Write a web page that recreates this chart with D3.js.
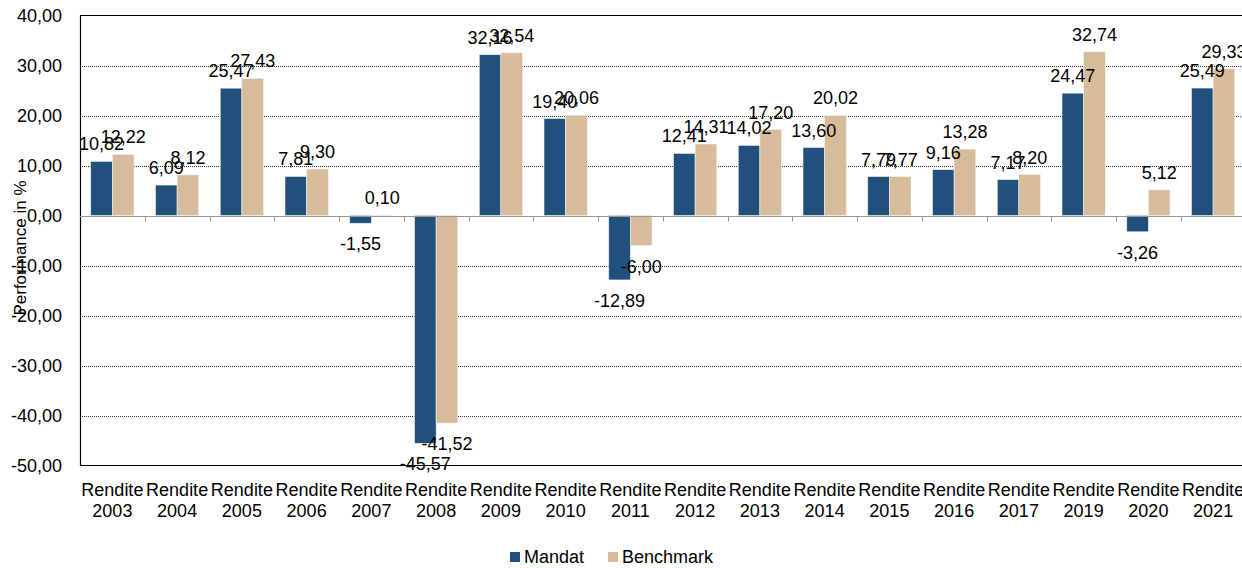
<!DOCTYPE html>
<html>
<head>
<meta charset="utf-8">
<script src="https://cdn.jsdelivr.net/npm/d3@7"></script>
<style>
  html, body { margin: 0; padding: 0; background: #fff; }
  svg { display: block; font-family: "Liberation Sans", Arial, sans-serif; }
</style>
</head>
<body>
<svg id="chart" width="1242" height="568"></svg>
<script>
var YEARS = ["2003","2004","2005","2006","2007","2008","2009","2010","2011","2012","2013","2014","2015","2016","2017","2019","2020","2021"];
var MANDAT = [10.82, 6.09, 25.47, 7.81, -1.55, -45.57, 32.16, 19.40, -12.89, 12.41, 14.02, 13.60, 7.79, 9.16, 7.17, 24.47, -3.26, 25.49];
var BENCHMARK = [12.22, 8.12, 27.43, 9.30, 0.10, -41.52, 32.54, 20.06, -6.00, 14.31, 17.20, 20.02, 7.77, 13.28, 8.20, 32.74, 5.12, 29.33];
var SERIES = ["Mandat", "Benchmark"];
var Y_TICKS = [40, 30, 20, 10, 0, -10, -20, -30, -40, -50];

document.addEventListener("DOMContentLoaded", function() {
  drawChart();
});

function fmt(v) {
  return v.toFixed(2).replace(".", ",");
}

function drawChart() {
  var svg = d3.select("#chart");
  var left = 80, top = 15.5, bottom = 465.5;
  var bandW = 64.75;
  var right = left + bandW * YEARS.length;
  var fs = 18;
  var colors = { Mandat: "#22507c", Benchmark: "#d6bc9a" };

  var rows = YEARS.map(function(y, i) {
    return { year: y, Mandat: MANDAT[i], Benchmark: BENCHMARK[i] };
  });

  var x0 = d3.scaleBand().domain(YEARS).range([left, right]).padding(0);
  var x1 = d3.scaleBand().domain(SERIES)
    .range([x0.bandwidth() * 0.166, x0.bandwidth() * 0.834]).padding(0);
  var y = d3.scaleLinear().domain([-50, 40]).range([bottom, top]);

  // dotted grid
  svg.append("g").selectAll("line")
    .data(Y_TICKS.filter(function(t) { return t !== 0 && t !== 40 && t !== -50; }))
    .enter().append("line")
    .attr("x1", left).attr("x2", right)
    .attr("y1", function(d) { return Math.round(y(d)) + 0.5; })
    .attr("y2", function(d) { return Math.round(y(d)) + 0.5; })
    .attr("stroke", "#333")
    .attr("stroke-width", 1)
    .attr("stroke-dasharray", "1,1");

  // bars
  var groups = svg.append("g").selectAll("g")
    .data(rows)
    .enter().append("g")
    .attr("transform", function(d) { return "translate(" + x0(d.year) + ",0)"; });

  groups.selectAll("rect")
    .data(function(d) { return SERIES.map(function(s) { return { key: s, value: d[s] }; }); })
    .enter().append("rect")
    .attr("x", function(d) { return x1(d.key); })
    .attr("width", x1.bandwidth())
    .attr("y", function(d) { return y(Math.max(0, d.value)); })
    .attr("height", function(d) { return Math.abs(y(d.value) - y(0)); })
    .attr("fill", function(d) { return colors[d.key]; })
    .attr("stroke", "#eef0f2")
    .attr("stroke-width", 0.6);

  // frame: top, left, bottom
  svg.append("path")
    .attr("d", "M" + right + "," + top + "H" + (left + 0.5) + "V" + bottom + "H" + right)
    .attr("fill", "none")
    .attr("stroke", "#000")
    .attr("stroke-width", 1.2);

  // zero axis with ticks between categories
  var zeroY = Math.round(y(0)) + 0.5;
  svg.append("line")
    .attr("x1", left).attr("x2", right)
    .attr("y1", zeroY).attr("y2", zeroY)
    .attr("stroke", "#999").attr("stroke-width", 1.2);
  svg.append("g").selectAll("line")
    .data(YEARS.slice(1))
    .enter().append("line")
    .attr("x1", function(d) { return Math.round(x0(d)) + 0.5; })
    .attr("x2", function(d) { return Math.round(x0(d)) + 0.5; })
    .attr("y1", zeroY).attr("y2", zeroY + 5)
    .attr("stroke", "#999");

  // value labels
  groups.selectAll("text")
    .data(function(d) { return SERIES.map(function(s) { return { key: s, value: d[s] }; }); })
    .enter().append("text")
    .attr("x", function(d) { return x1(d.key) + x1.bandwidth() / 2; })
    .attr("y", function(d) { return d.value >= 0 ? y(d.value) - 11 : y(d.value) + 27; })
    .attr("text-anchor", "middle")
    .attr("font-size", fs)
    .attr("fill", "#000")
    .text(function(d) { return fmt(d.value); });

  // y tick labels
  svg.append("g").selectAll("text")
    .data(Y_TICKS)
    .enter().append("text")
    .attr("x", 62)
    .attr("y", function(d) { return y(d) + 6; })
    .attr("text-anchor", "end")
    .attr("font-size", fs)
    .attr("fill", "#000")
    .text(fmt);

  // axis title
  svg.append("text")
    .attr("transform", "translate(26,248) rotate(-90)")
    .attr("text-anchor", "middle")
    .attr("font-size", 17)
    .attr("fill", "#000")
    .text("Performance in %");

  // x labels
  var xl = svg.append("g").selectAll("text")
    .data(YEARS)
    .enter().append("text")
    .attr("text-anchor", "middle")
    .attr("font-size", fs)
    .attr("fill", "#000");
  xl.append("tspan")
    .attr("x", function(d) { return x0(d) + x0.bandwidth() / 2; })
    .attr("y", 496)
    .text("Rendite");
  xl.append("tspan")
    .attr("x", function(d) { return x0(d) + x0.bandwidth() / 2; })
    .attr("y", 517)
    .text(function(d) { return d; });

  // legend
  var legendX = [510, 608];
  var legend = svg.append("g").selectAll("g")
    .data(SERIES)
    .enter().append("g")
    .attr("transform", function(d, i) { return "translate(" + legendX[i] + ",552)"; });
  legend.append("rect")
    .attr("width", 10).attr("height", 10)
    .attr("fill", function(d) { return colors[d]; });
  legend.append("text")
    .attr("x", 14).attr("y", 11)
    .attr("font-size", fs)
    .attr("fill", "#000")
    .text(function(d) { return d; });
}
</script>
</body>
</html>
